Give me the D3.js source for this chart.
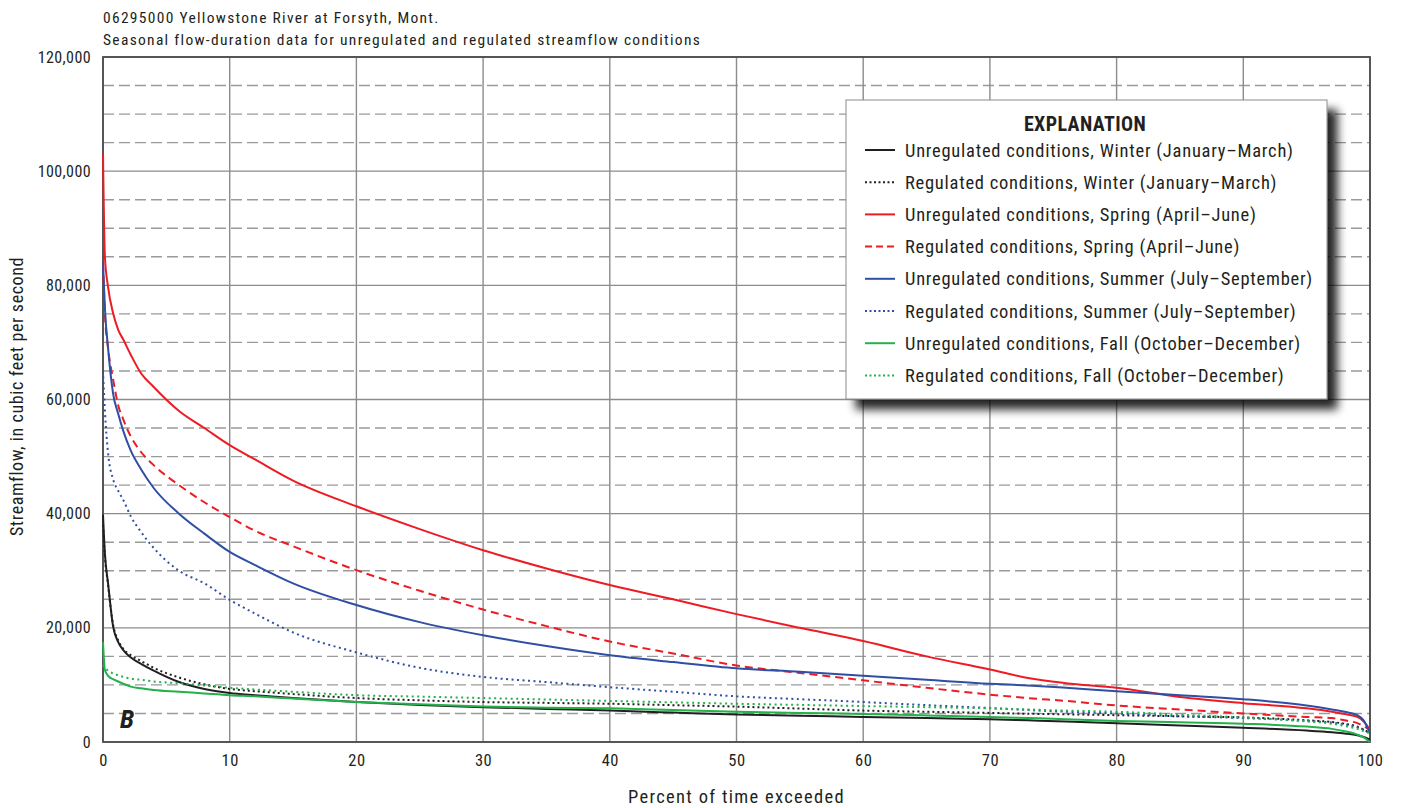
<!DOCTYPE html>
<html>
<head>
<meta charset="utf-8">
<script src="https://cdn.jsdelivr.net/npm/d3@7"></script>
<style>
  html, body { margin: 0; padding: 0; background: #fff; }
  svg text { font-family: "Liberation Sans Narrow", "Arial Narrow", "Roboto Condensed", "DejaVu Sans Condensed", sans-serif; fill: #231f20; }
</style>
</head>
<body>
<svg id="chart" width="1403" height="808"></svg>
<script>
// ---------- data ----------
const percentExceeded = [0, 0.15, 0.4, 0.8, 1.2, 1.6, 2.2, 3, 4, 6, 8, 10, 12, 15, 20, 25, 30, 35, 40, 45, 50, 55, 60, 65, 70, 73, 76, 80, 85, 90, 95, 97, 98, 99, 99.5, 100];

const unregWinter = [39800, 33000, 27800, 20200, 17500, 16100, 14800, 13700, 12500, 10500, 9300, 8600, 8200, 7700, 7000, 6500, 6100, 5800, 5500, 5150, 4800, 4600, 4400, 4200, 4000, 3800, 3600, 3300, 2900, 2500, 2000, 1700, 1500, 1200, 900, 400];
const regWinter   = [38000, 32500, 27500, 20500, 17800, 16300, 15200, 14200, 13000, 11300, 10100, 9300, 8900, 8400, 7700, 7300, 7000, 6850, 6700, 6450, 6200, 5850, 5500, 5300, 5100, 4950, 4850, 4700, 4500, 4300, 3800, 3500, 3200, 2700, 2200, 1500];
const unregSpring = [103000, 85000, 79700, 75100, 72200, 70500, 67800, 64600, 62200, 58000, 55000, 52000, 49500, 45800, 41300, 37300, 33600, 30400, 27500, 25000, 22400, 20000, 17700, 15000, 12700, 11200, 10300, 9500, 7900, 6800, 5900, 5300, 4900, 4400, 3600, 2100];
const regSpring   = [84000, 75000, 69000, 63500, 59000, 56500, 53500, 50800, 48500, 45000, 42000, 39400, 37000, 34300, 30100, 26500, 23200, 20300, 17600, 15500, 13400, 12100, 10800, 9500, 8300, 7700, 7200, 6400, 5700, 5000, 4400, 4200, 3800, 3300, 2800, 2100];
const unregSummer = [84000, 76000, 69000, 61000, 57500, 54500, 51000, 47800, 44500, 40000, 36500, 33300, 31000, 27800, 24000, 21000, 18700, 16800, 15200, 14000, 12900, 12300, 11600, 10900, 10200, 9900, 9500, 8900, 8200, 7500, 6400, 5700, 5300, 4700, 3800, 1600];
const regSummer   = [65000, 58000, 50600, 46000, 44000, 42400, 39500, 36800, 34000, 30000, 27800, 24900, 22500, 19200, 15700, 13000, 11400, 10500, 9600, 8800, 8000, 7500, 7000, 6450, 5950, 5600, 5300, 5000, 4500, 4200, 3700, 3400, 3100, 2600, 2100, 1500];
const unregFall   = [17500, 12600, 11600, 11000, 10600, 10200, 9700, 9400, 9100, 8800, 8500, 8200, 8000, 7600, 7000, 6600, 6200, 6000, 5900, 5600, 5300, 5100, 4900, 4650, 4400, 4200, 4000, 3700, 3450, 3200, 2700, 2300, 1900, 1300, 800, 0];
const regFall     = [13500, 13000, 12500, 12000, 11700, 11400, 11100, 10900, 10600, 10300, 9900, 9500, 9200, 8800, 8200, 7950, 7700, 7450, 7200, 6950, 6700, 6500, 6300, 6100, 5900, 5700, 5500, 5300, 4800, 4300, 3600, 3200, 2800, 2300, 1900, 1500];

const seriesNames = [
  "Unregulated conditions, Winter (January\u2013March)",
  "Regulated conditions, Winter (January\u2013March)",
  "Unregulated conditions, Spring (April\u2013June)",
  "Regulated conditions, Spring (April\u2013June)",
  "Unregulated conditions, Summer (July\u2013September)",
  "Regulated conditions, Summer (July\u2013September)",
  "Unregulated conditions, Fall (October\u2013December)",
  "Regulated conditions, Fall (October\u2013December)"
];
const seriesValues = [unregWinter, regWinter, unregSpring, regSpring, unregSummer, regSummer, unregFall, regFall];
const seriesColors = ["#231f20", "#231f20", "#ed1c24", "#ed1c24", "#2e4fa3", "#2e4fa3", "#22b14c", "#22b14c"];
const seriesDash   = [null, "2,3", null, "8,5", null, "2,3.5", null, "2,3.5"];

const xTicks = [0, 10, 20, 30, 40, 50, 60, 70, 80, 90, 100];
const yMajorTicks = [0, 20000, 40000, 60000, 80000, 100000, 120000];
const yMinorTicks = [5000, 10000, 15000, 25000, 30000, 35000, 45000, 50000, 55000, 65000, 70000, 75000, 85000, 90000, 95000, 105000, 110000, 115000];

const titleLines = ["06295000 Yellowstone River at Forsyth, Mont.",
                    "Seasonal flow-duration data for unregulated and regulated streamflow conditions"];

// ---------- layout ----------
const svg = d3.select("#chart");
const m = { left: 103, top: 57, right: 1370, bottom: 742 };
const x = d3.scaleLinear().domain([0, 100]).range([m.left, m.right]);
const y = d3.scaleLinear().domain([0, 120000]).range([m.bottom, m.top]);

const defs = svg.append("defs");
const filt = defs.append("filter").attr("id", "shadow").attr("x", "-10%").attr("y", "-10%").attr("width", "130%").attr("height", "130%");
filt.append("feGaussianBlur").attr("in", "SourceAlpha").attr("stdDeviation", 5).attr("result", "b");
filt.append("feOffset").attr("in", "b").attr("dx", 10).attr("dy", 10).attr("result", "o");
filt.append("feComponentTransfer").attr("in", "o").attr("result", "o2")
  .append("feFuncA").attr("type", "linear").attr("slope", 0.85);
const fm = filt.append("feMerge");
fm.append("feMergeNode").attr("in", "o2");
fm.append("feMergeNode").attr("in", "SourceGraphic");

// title
svg.selectAll("text.title").data(titleLines).enter().append("text")
  .attr("class", "title")
  .attr("x", m.left).attr("y", (d, i) => 23 + i * 22)
  .style("font-size", "15.5px").style("letter-spacing", "1.3px").text(d => d);

// grid
const g = svg.append("g");
g.selectAll("line.ymin").data(yMinorTicks).enter().append("line")
  .attr("x1", m.left).attr("x2", m.right).attr("y1", d => y(d)).attr("y2", d => y(d))
  .attr("stroke", "#9a9a9a").attr("stroke-width", 1.4).attr("stroke-dasharray", "11,5");
g.selectAll("line.ymaj").data(yMajorTicks).enter().append("line")
  .attr("x1", m.left).attr("x2", m.right).attr("y1", d => y(d)).attr("y2", d => y(d))
  .attr("stroke", "#8c8c8c").attr("stroke-width", 1.4);
g.selectAll("line.xg").data(xTicks).enter().append("line")
  .attr("y1", m.top).attr("y2", m.bottom).attr("x1", d => x(d)).attr("x2", d => x(d))
  .attr("stroke", "#8c8c8c").attr("stroke-width", 1.4);

// axes
const xAxis = svg.append("g").attr("transform", `translate(0,${m.bottom})`)
  .call(d3.axisBottom(x).tickValues(xTicks).tickSize(0).tickPadding(12).tickFormat(d3.format("d")));
xAxis.select(".domain").remove();
xAxis.selectAll("text").style("font-size", "16.5px").style("letter-spacing", "0.5px").attr("fill", "#231f20");

const yAxis = svg.append("g").attr("transform", `translate(${m.left},0)`)
  .call(d3.axisLeft(y).tickValues(yMajorTicks).tickSize(0).tickPadding(12).tickFormat(d3.format(",")));
yAxis.select(".domain").remove();
yAxis.selectAll("text").style("font-size", "16px").style("letter-spacing", "0.4px").attr("fill", "#231f20");

// frame
svg.append("rect").attr("x", m.left).attr("y", m.top).attr("width", m.right - m.left).attr("height", m.bottom - m.top)
  .attr("fill", "none").attr("stroke", "#4d4d4d").attr("stroke-width", 1.8);

// axis titles
svg.append("text").attr("x", (m.left + m.right) / 2).attr("y", 803).attr("text-anchor", "middle")
  .style("font-size", "18.5px").style("letter-spacing", "1.3px").text("Percent of time exceeded");
svg.append("text").attr("transform", `translate(23,${(m.top + m.bottom) / 2 - 3}) rotate(-90)`).attr("text-anchor", "middle")
  .style("font-size", "18px").style("letter-spacing", "0.6px").text("Streamflow, in cubic feet per second");

// lines
const line = d3.line().x(d => x(d[0])).y(d => y(d[1])).curve(d3.curveMonotoneX);
const plot = svg.append("g");
seriesValues.forEach((vals, i) => {
  const pts = percentExceeded.map((p, j) => [p, vals[j]]);
  plot.append("path").datum(pts).attr("d", line)
    .attr("fill", "none").attr("stroke", seriesColors[i]).attr("stroke-width", 2)
    .attr("stroke-dasharray", seriesDash[i]);
});

// panel letter
svg.append("text").attr("x", 120).attr("y", 728)
  .style("font-size", "26px").style("font-weight", "bold").style("font-style", "italic").text("B");

// legend
const lg = svg.append("g");
lg.append("rect").attr("x", 846).attr("y", 100).attr("width", 481).attr("height", 299)
  .attr("fill", "#fff").attr("stroke", "#8c8c8c").attr("stroke-width", 1).attr("filter", "url(#shadow)");
lg.append("text").attr("x", 1085).attr("y", 131).attr("text-anchor", "middle")
  .style("font-size", "20px").style("letter-spacing", "0.4px").style("font-weight", "bold").text("EXPLANATION");
const rows = lg.selectAll("g.row").data(seriesNames).enter().append("g")
  .attr("transform", (d, i) => `translate(0,${150 + i * 32.2})`);
rows.append("line").attr("x1", 865).attr("x2", 895).attr("y1", 0).attr("y2", 0)
  .attr("stroke", (d, i) => seriesColors[i]).attr("stroke-width", 2)
  .attr("stroke-dasharray", (d, i) => seriesDash[i] ? (i === 3 ? "7,4" : "2,2.5") : null);
rows.append("text").attr("x", 905).attr("y", 6.5).style("font-size", "18.5px").style("letter-spacing", "0.75px").text(d => d);
</script>
</body>
</html>
